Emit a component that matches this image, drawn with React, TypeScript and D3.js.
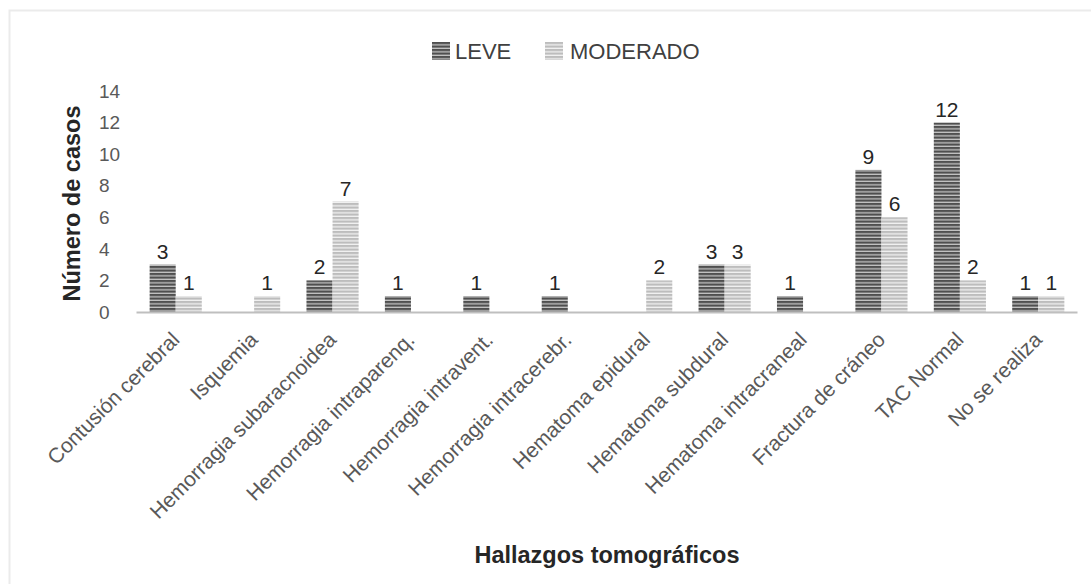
import * as d3 from "d3";

const categories = [
  "Contusión cerebral",
  "Isquemia",
  "Hemorragia subaracnoidea",
  "Hemorragia intraparenq.",
  "Hemorragia intravent.",
  "Hemorragia intracerebr.",
  "Hematoma epidural",
  "Hematoma subdural",
  "Hematoma intracraneal",
  "Fractura de cráneo",
  "TAC Normal",
  "No se realiza",
];
const series = ["LEVE", "MODERADO"];
const leve = [3, 0, 2, 1, 1, 1, 0, 3, 1, 9, 12, 1];
const moderado = [1, 1, 7, 0, 0, 0, 2, 3, 0, 6, 2, 1];
const yTicks = [0, 2, 4, 6, 8, 10, 12, 14];

const font = "'Liberation Sans', Arial, sans-serif";

export default function App() {
  const width = 1091;
  const height = 584;

  const x0 = d3
    .scaleBand()
    .domain(categories)
    .range([136.5, 1077.5])
    .paddingInner(0.335)
    .paddingOuter(0.1675);
  const x1 = d3.scaleBand().domain(series).range([0, x0.bandwidth()]);
  const y = d3.scaleLinear().domain([0, 14]).range([312, 91]);

  const values: { [k: string]: number[] } = { LEVE: leve, MODERADO: moderado };
  const fills: { [k: string]: string } = {
    LEVE: "url(#pLeve)",
    MODERADO: "url(#pMod)",
  };

  return (
    <svg
      width={width}
      height={height}
      style={{ position: "absolute", left: 0, top: 0, background: "#fff" }}
      fontFamily={font}
    >
      <defs>
        <pattern id="pLeve" patternUnits="userSpaceOnUse" width={8} height={3.5}>
          <rect width={8} height={3.5} fill="#c4c4c4" />
          <rect width={8} height={2.2} fill="#4f4f4f" />
        </pattern>
        <pattern id="pMod" patternUnits="userSpaceOnUse" width={8} height={3.5}>
          <rect width={8} height={3.5} fill="#f2f2f2" />
          <rect width={8} height={2.2} fill="#bdbdbd" />
        </pattern>
      </defs>

      <rect x={9.5} y={10.5} width={1100} height={600} fill="#fff" stroke="#ebebeb" strokeWidth={2} />

      {/* legend */}
      <rect x={432} y={42} width={18} height={18} fill={fills.LEVE} />
      <text x={455} y={59} fontSize={22} fill="#404040">LEVE</text>
      <rect x={545} y={42} width={18} height={18} fill={fills.MODERADO} />
      <text x={570} y={59} fontSize={22} fill="#404040">MODERADO</text>

      {/* y ticks */}
      {yTicks.map((t) => (
        <text key={t} x={99} y={y(t)} dy="0.35em" fontSize={19} fill="#595959">
          {t}
        </text>
      ))}

      {/* bars */}
      {categories.map((c, i) => (
        <g key={c} transform={`translate(${x0(c)},0)`}>
          {series.map((s) => {
            const v = values[s][i];
            if (!v) return null;
            return (
              <g key={s}>
                <rect
                  x={x1(s)}
                  y={y(v)}
                  width={x1.bandwidth()}
                  height={y(0) - y(v)}
                  fill={fills[s]}
                />
                <text
                  x={(x1(s) as number) + x1.bandwidth() / 2}
                  y={y(v) - 6}
                  textAnchor="middle"
                  fontSize={21}
                  fill="#262626"
                >
                  {v}
                </text>
              </g>
            );
          })}
        </g>
      ))}

      {/* x axis line */}
      <line x1={136.5} x2={1077.5} y1={y(0) + 0.5} y2={y(0) + 0.5} stroke="#bfbfbf" strokeWidth={2} />

      {/* x labels */}
      {categories.map((c) => {
        const cx = (x0(c) as number) + x0.bandwidth() / 2;
        return (
          <text
            key={c}
            transform={`translate(${cx + 5},341) rotate(-45)`}
            textAnchor="end"
            fontSize={21}
            fill="#595959"
          >
            {c}
          </text>
        );
      })}

      {/* axis titles */}
      <text
        transform="translate(80,203.5) rotate(-90)"
        textAnchor="middle"
        fontSize={23.5}
        fontWeight="bold"
        fill="#262626"
      >
        Número de casos
      </text>
      <text x={607} y={563} textAnchor="middle" fontSize={23.5} fontWeight="bold" fill="#262626">
        Hallazgos tomográficos
      </text>
    </svg>
  );
}
